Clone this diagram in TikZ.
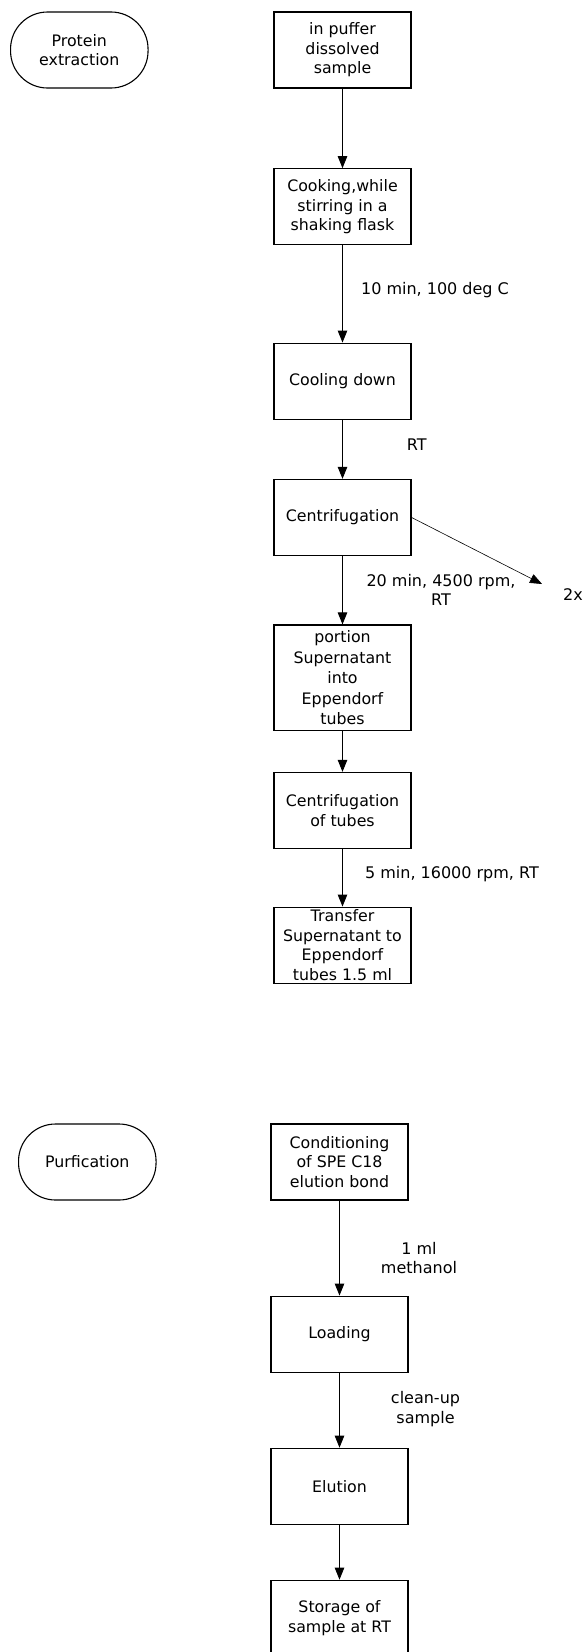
\documentclass[tikz,border=0pt]{standalone}
\usepackage{fontspec}
\setmainfont{DejaVu Sans}
\usetikzlibrary{arrows.meta}
\begin{document}
\begin{tikzpicture}[x=1pt,y=-1pt,
  stepbox/.style={draw, line width=1.3pt, minimum width=137pt, minimum height=76pt, inner sep=0pt, align=center, font=\fontsize{15.8}{19.5}\selectfont},
  term/.style={draw, line width=1.1pt, rounded corners=37pt, minimum width=137.5pt, minimum height=76pt, inner sep=0pt, align=center, font=\fontsize{15.8}{19.5}\selectfont},
  lbl/.style={align=center, inner sep=0pt, font=\fontsize{16}{19.5}\selectfont},
  arr/.style={-{Triangle[length=12pt,width=9.5pt]}, line width=0.9pt},
]
\clip (0,0) rectangle (586,1652);
\fill[white] (0,0) rectangle (586,1652);

% Protein extraction
\node[term] (t1) at (79.3,50) {Protein\\extraction};
\node[stepbox] (b1) at (342.5,50) {in puffer\\dissolved\\sample};
\node[stepbox] (b2) at (342.5,206.8) {Cooking,while\\stirring in a\\shaking flask};
\node[stepbox] (b3) at (342.5,381.2) {Cooling down};
\node[stepbox] (b4) at (342.5,517.5) {Centrifugation};
\node[stepbox, minimum height=105.3pt, font=\fontsize{15.8}{20.5}\selectfont] (b5) at (342.5,677.7) {portion\\Supernatant\\into\\Eppendorf\\tubes};
\node[stepbox] (b6) at (342.5,810.5) {Centrifugation\\of tubes};
\node[stepbox] (b7) at (342.5,945.2) {Transfer\\Supernatant to\\Eppendorf\\tubes 1.5 ml};

\draw[arr] (b1) -- (b2);
\draw[arr] (b2) -- (b3);
\draw[arr] (b3) -- (b4);
\draw[arr] (b4) -- (b5);
\draw[arr] (b5) -- (b6);
\draw[arr] (b6) -- (b7);

\coordinate (c2x) at (542,584);
\draw[-{Triangle[length=12pt,width=9.5pt]}, line width=0.6pt] (b4.east) -- (c2x);
\node[lbl, anchor=west] (l2x) at (563,595) {2x};

\node[lbl] (l1) at (435,290) {10 min, 100 deg C};
\node[lbl] (l2) at (416.7,445) {RT};
\node[lbl] (l3) at (441,590) {20 min, 4500 rpm,\\RT};
\node[lbl] (l4) at (452,874) {5 min, 16000 rpm, RT};

% Purification
\node[term] (t2) at (87.3,1162) {Purfication};
\node[stepbox] (b8) at (339.5,1162) {Conditioning\\of SPE C18\\elution bond};
\node[stepbox] (b9) at (339.5,1334.2) {Loading};
\node[stepbox] (b10) at (339.5,1486.3) {Elution};
\node[stepbox] (b11) at (339.5,1618.3) {Storage of\\sample at RT};

\draw[arr] (b8) -- (b9);
\draw[arr] (b9) -- (b10);
\draw[arr] (b10) -- (b11);

\node[lbl] (l5) at (419,1258) {1 ml\\methanol};
\node[lbl] (l6) at (425.5,1409) {clean-up\\sample};
\end{tikzpicture}
\end{document}
